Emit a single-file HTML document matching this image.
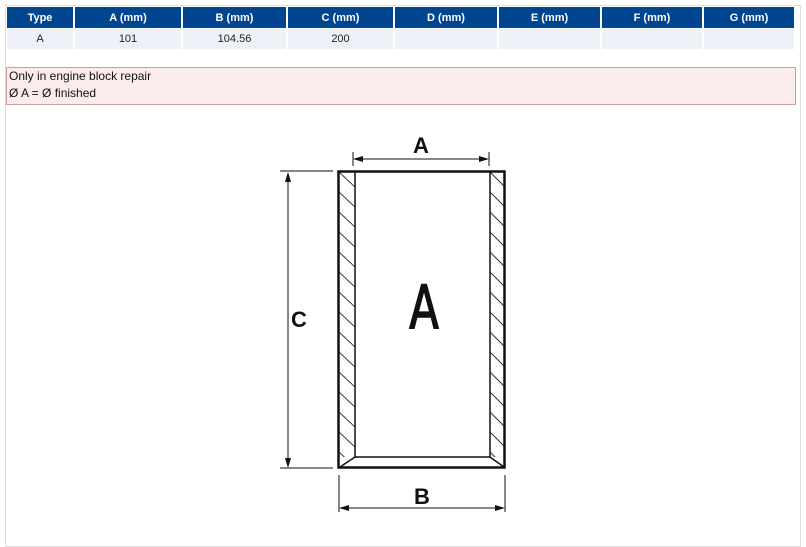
<!DOCTYPE html>
<html><head><style>
body{margin:0;width:806px;height:532px;background:#fff;font-family:"Liberation Sans",sans-serif;position:relative;overflow:hidden}
.frame{position:absolute;left:5px;top:5px;width:794px;height:540px;border:1px solid #ddd}
table{position:absolute;left:7px;top:7px;border-collapse:collapse;width:789px;font-size:11px}
th{background:#004590;color:#fff;height:21px;border-right:2px solid #fff;font-weight:bold;padding:0}
td{background:#eef0f8;height:20px;text-align:center;border-right:2px solid #fff;border-top:1px solid #fff;color:#222;padding:0}
.note{position:absolute;left:6px;top:67px;width:786px;height:36px;border:1px solid #c9a0a0;background:#fbecec;font-size:12px;line-height:17px;padding-left:2px;color:#111}
</style></head><body>
<div class="frame"></div>
<table><tr><th style="width:66px">Type</th><th style="width:106px">A (mm)</th><th style="width:103px">B (mm)</th><th style="width:105px">C (mm)</th><th style="width:102px">D (mm)</th><th style="width:101px">E (mm)</th><th style="width:100px">F (mm)</th><th>G (mm)</th></tr>
<tr><td>A</td><td>101</td><td>104.56</td><td>200</td><td></td><td></td><td></td><td></td></tr></table>
<div class="note">Only in engine block repair<br>Ø A = Ø finished</div>
<svg width="806" height="532" style="position:absolute;left:0;top:0">
<defs>
<pattern id="hl" x="339" y="172" width="17" height="20" patternUnits="userSpaceOnUse"><line x1="0" y1="0" x2="17" y2="16" stroke="#333"/></pattern>
<pattern id="hr" x="490" y="172" width="16" height="20" patternUnits="userSpaceOnUse"><line x1="0" y1="0" x2="16" y2="16" stroke="#333"/></pattern>
</defs>
<rect x="339" y="172" width="16" height="285" fill="url(#hl)"/>
<rect x="490" y="172" width="15" height="285" fill="url(#hr)"/>
<g stroke="#111" fill="none">
<rect x="338.5" y="171.5" width="166" height="296" stroke-width="2.5"/>
<line x1="355" y1="172" x2="355" y2="458" stroke-width="1.5"/>
<line x1="490" y1="172" x2="490" y2="458" stroke-width="1.5"/>
<polyline points="340,467 355,457 490,457 504,467" stroke-width="1.5"/>
<line x1="353" y1="152" x2="353" y2="166"/><line x1="489" y1="152" x2="489" y2="166"/>
<line x1="355" y1="159" x2="487" y2="159"/>
<line x1="280" y1="171" x2="333" y2="171"/><line x1="280" y1="468" x2="333" y2="468"/>
<line x1="288" y1="174" x2="288" y2="466"/>
<line x1="339" y1="475" x2="339" y2="512"/><line x1="505" y1="475" x2="505" y2="512"/>
<line x1="341" y1="508" x2="503" y2="508"/>
</g>
<g fill="#111">
<polygon points="353,159 363,156 363,162"/><polygon points="489,159 479,156 479,162"/>
<polygon points="288,172 285,182 291,182"/><polygon points="288,468 285,458 291,458"/>
<polygon points="339,508 349,505 349,511"/><polygon points="505,508 495,505 495,511"/>
</g>
<g font-family="Liberation Sans,sans-serif" font-weight="bold" font-size="22" text-anchor="middle" fill="#111">
<text x="421" y="153">A</text><text x="299" y="327">C</text><text x="422" y="504">B</text>
</g>
<text x="424" y="328" font-family="DejaVu Sans Condensed,Liberation Sans Narrow,sans-serif" font-size="60" text-anchor="middle" fill="#111" stroke="#111" stroke-width="1.5" transform="translate(424 0) scale(0.8 1) translate(-424 0)">A</text>
</svg>
</body></html>
